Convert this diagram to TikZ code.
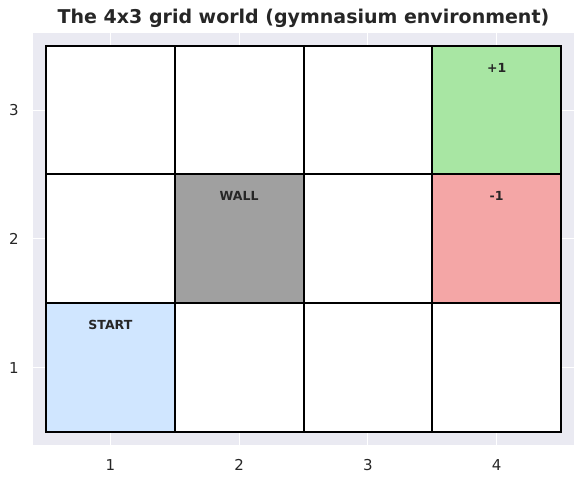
\documentclass[tikz,border=0pt]{standalone}
\usepackage{fontspec}
\setmainfont{DejaVu Sans}
\usepackage{xcolor}
\usepackage{tikz}
\usetikzlibrary{positioning}
\definecolor{axbg}{HTML}{EAEAF2}
\definecolor{ink}{HTML}{262626}
\definecolor{goalgreen}{HTML}{A8E6A3}
\definecolor{pitred}{HTML}{F4A6A6}
\definecolor{wallgray}{HTML}{A0A0A0}
\definecolor{startblue}{HTML}{D0E6FF}
\tikzset{
  cellbox/.style={
    draw=black, fill=#1, line width=2pt
  },
  cellbox/.default=white,
  gridline/.style={
    draw=white, line width=1.2pt
  },
  celllabel/.style={
    font=\fontsize{12.5}{14}\selectfont\bfseries, text=ink
  },
  ticklabel/.style={
    font=\fontsize{15}{17}\selectfont, text=ink
  },
  titlelabel/.style={
    font=\fontsize{19}{22}\selectfont\bfseries, text=ink
  },
}

\begin{document}
\begin{tikzpicture}[x=128.75pt, y=128.75pt]
  \useasboundingbox (0.1427,0.0961) rectangle (4.6786,3.8553);

  % axes background and grid
  \fill[axbg] (0.4,0.4) rectangle (4.6,3.6);
  \foreach \i in {1,...,4}
    \draw[gridline] (\i,0.4) -- (\i,3.6);
  \foreach \j in {1,2,3}
    \draw[gridline] (0.4,\j) -- (4.6,\j);

  % cells
  \foreach \i in {1,...,4}
    \foreach \j in {1,2,3}
      \draw[cellbox] (\i-0.5,\j-0.5) rectangle ++(1,1);
  \draw[cellbox=goalgreen] (3.5,2.5) rectangle ++(1,1);
  \draw[cellbox=pitred] (3.5,1.5) rectangle ++(1,1);
  \draw[cellbox=wallgray] (1.5,1.5) rectangle ++(1,1);
  \draw[cellbox=startblue] (0.5,0.5) rectangle ++(1,1);

  % cell labels
  \node[celllabel] (goal) at (4,3.33) {+1};
  \node[celllabel] (pit) at (4,2.33) {-1};
  \node[celllabel] (wall) at (2,2.33) {WALL};
  \node[celllabel] (start) at (1,1.33) {START};

  % ticks
  \foreach \i in {1,...,4}
    \node[ticklabel] (xt\i) at (\i,0.244) {\i};
  \foreach \j in {1,2,3}
    \node[ticklabel] (yt\j) at (0.2515,\j) {\j};

  \node[titlelabel] (title) at (2.5,3.715) {The 4x3 grid world (gymnasium environment)};
\end{tikzpicture}
\end{document}
